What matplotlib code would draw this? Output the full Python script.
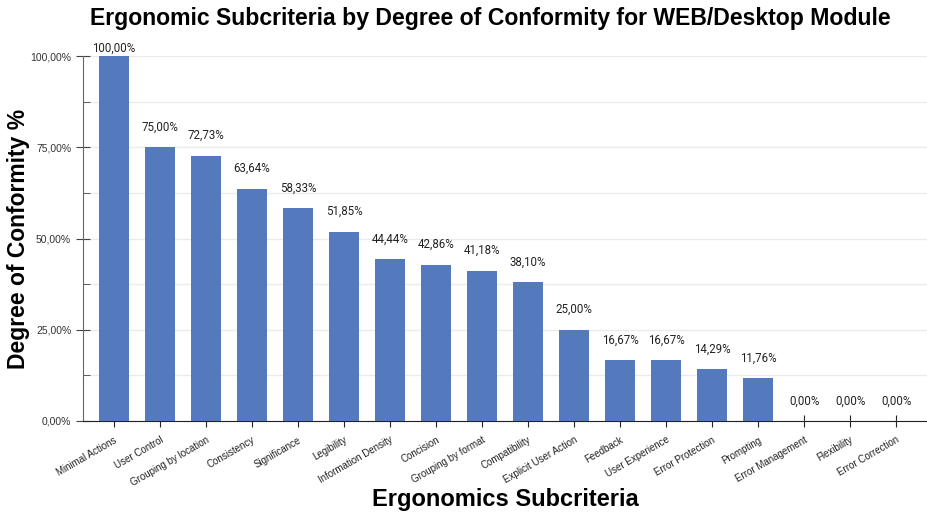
import matplotlib
matplotlib.use("Agg")
import matplotlib.pyplot as plt
from matplotlib.ticker import MultipleLocator, FuncFormatter

categories = ["Minimal Actions", "User Control", "Grouping by location", "Consistency",
              "Significance", "Legibility", "Information Density", "Concision",
              "Grouping by format", "Compatibility", "Explicit User Action", "Feedback",
              "User Experience", "Error Protection", "Prompting", "Error Management",
              "Flexibility", "Error Correction"]
values = [100.00, 75.00, 72.73, 63.64, 58.33, 51.85, 44.44, 42.86, 41.18, 38.10,
          25.00, 16.67, 16.67, 14.29, 11.76, 0.00, 0.00, 0.00]

def pct(v):
    return f"{v:.2f}".replace(".", ",") + "%"

fig = plt.figure(figsize=(9.27, 5.15), dpi=100)
ax = fig.add_axes([83/927, 94/515, 1 - 83/927, (421 - 56)/515])

x = list(range(len(categories)))
ax.bar(x, values, width=0.65, color="#5479bd", zorder=3)

ax.set_xlim(-0.67, len(categories) - 0.33)
ax.set_ylim(0, 100)

ax.yaxis.set_major_locator(MultipleLocator(25))
ax.yaxis.set_minor_locator(MultipleLocator(12.5))
ax.yaxis.set_major_formatter(FuncFormatter(lambda v, p: pct(v)))
ax.grid(axis="y", which="both", color="#ebebeb", linewidth=1, zorder=0)

for s in ("top", "right"):
    ax.spines[s].set_visible(False)
ax.spines["left"].set_color("#666666")
ax.spines["bottom"].set_color("#222222")

ax.tick_params(axis="y", which="major", direction="inout", length=10, color="#444444",
               labelsize=7.5, labelcolor="#333333")
ax.tick_params(axis="y", which="minor", direction="in", length=5, color="#444444")
ax.tick_params(axis="x", direction="inout", length=8, color="#222222", pad=6)

ax.set_xticks(x)
ax.set_xticklabels(categories, rotation=30, ha="right", rotation_mode="anchor",
                   fontsize=7, color="#222222", family="Liberation Sans")
for lbl in ax.get_yticklabels():
    lbl.set_family("Liberation Sans")

for xi, v in zip(x, values):
    y_px = min(v * 3.65 + 20, 365 + 8)
    ax.annotate(pct(v), (xi, 0), xytext=(0, y_px), textcoords="offset pixels",
                ha="center", va="center", fontsize=8.3, color="#222222",
                family="Roboto", annotation_clip=False)

ax.set_ylabel("Degree of Conformity %", fontsize=16.5, fontweight="bold",
              family="Liberation Sans")
ax.yaxis.set_label_coords(-53/844, 0.5)
ax.set_xlabel("Ergonomics Subcriteria", fontsize=17, fontweight="bold",
              family="Liberation Sans", labelpad=0)
fig.text(490/927, 1 - 18/515, "Ergonomic Subcriteria by Degree of Conformity for WEB/Desktop Module",
         ha="center", va="center", fontsize=16.6, fontweight="bold", family="Liberation Sans")

fig.savefig("out.png", dpi=100)
